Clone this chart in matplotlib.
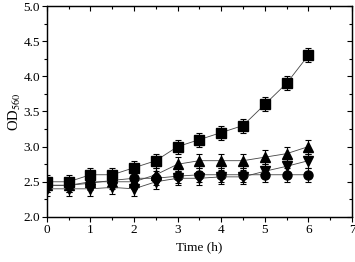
import matplotlib
matplotlib.use("Agg")
import matplotlib.pyplot as plt

time_h = [0, 0.5, 1, 1.5, 2, 2.5, 3, 3.5, 4, 4.5, 5, 5.5, 6]
od_square = [2.50, 2.50, 2.60, 2.60, 2.70, 2.80, 3.00, 3.10, 3.20, 3.30, 3.60, 3.90, 4.30]
od_triangle = [2.45, 2.45, 2.50, 2.50, 2.50, 2.60, 2.75, 2.80, 2.80, 2.80, 2.85, 2.90, 3.00]
od_circle = [2.45, 2.45, 2.48, 2.52, 2.55, 2.55, 2.58, 2.60, 2.60, 2.60, 2.60, 2.60, 2.60]
od_down = [2.40, 2.40, 2.40, 2.42, 2.40, 2.50, 2.55, 2.55, 2.57, 2.57, 2.65, 2.72, 2.80]
err = [0.1] * 13

xticks = [0, 1, 2, 3, 4, 5, 6, 7]
yticks = [2.0, 2.5, 3.0, 3.5, 4.0, 4.5, 5.0]

plt.rcParams['font.family'] = ['Liberation Serif', 'DejaVu Serif']
plt.rcParams['mathtext.fontset'] = 'stix'

fig = plt.figure(figsize=(3.55, 2.62), dpi=100)
ax = fig.add_axes([0.132, 0.172, 0.8595, 0.805])

series = [(od_square, 's'), (od_triangle, '^'), (od_circle, 'o'), (od_down, 'v')]
for vals, mk in series:
    line, caps, bars = ax.errorbar(time_h, vals, yerr=err, marker=mk, color='black', ms=6.5,
                                   lw=0.6, elinewidth=0.8, capsize=2.2, capthick=0.8,
                                   mfc='black', mec='black', zorder=3)
    line.set_color('#444444')
    line.set_markerfacecolor('black')
    line.set_markeredgecolor('black')

ax.set_xlim(0, 7)
ax.set_ylim(2.0, 5.0)
ax.set_xticks(xticks)
ax.set_yticks(yticks)
ax.set_xticklabels([str(v) for v in xticks])
ax.set_yticklabels([f"{v:.1f}" for v in yticks])
ax.set_xticks([0.5 + i for i in range(7)], minor=True)
ax.set_yticks([2.25 + 0.5 * i for i in range(6)], minor=True)
ax.tick_params(which='major', direction='out', length=3.5, width=0.8, labelsize=9.5, pad=1.5)
ax.tick_params(which='minor', direction='out', length=2, width=0.8)
for s in ax.spines.values():
    s.set_linewidth(0.9)

ax2 = ax.twiny()
ax2.set_xlim(0, 7)
ax2.set_xticks(xticks)
ax2.set_xticks([0.5 + i for i in range(7)], minor=True)
ax2.tick_params(which='major', direction='in', length=3.5, width=0.8, labeltop=False)
ax2.tick_params(which='minor', direction='in', length=2, width=0.8)
ax3 = ax.twinx()
ax3.set_ylim(2.0, 5.0)
ax3.set_yticks(yticks)
ax3.set_yticks([2.25 + 0.5 * i for i in range(6)], minor=True)
ax3.tick_params(which='major', direction='in', length=3.5, width=0.8, labelright=False)
ax3.tick_params(which='minor', direction='in', length=2, width=0.8)

ax.set_xlabel('Time (h)', fontsize=9.5, labelpad=4)
ax.set_ylabel(r'OD$_{560}$', fontsize=10.5, labelpad=0.5)

fig.savefig('out.png', dpi=100)
